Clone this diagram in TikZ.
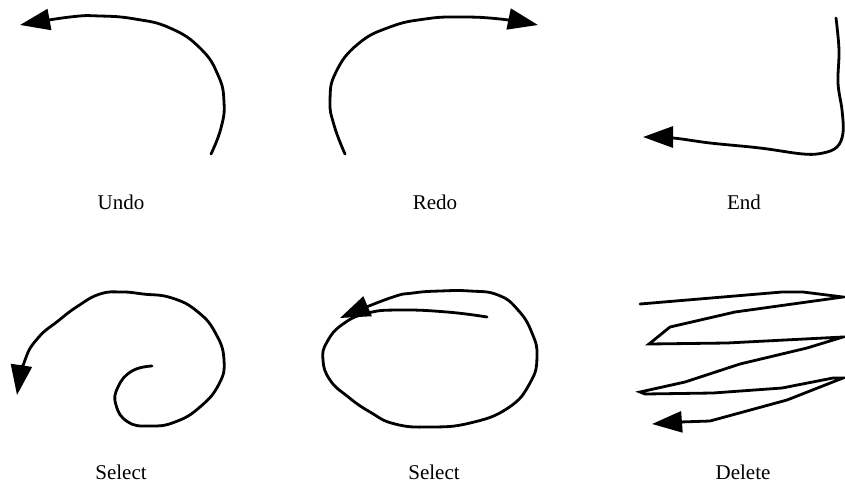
\documentclass[tikz,border=0pt]{standalone}
\usepackage{fontspec}
\setmainfont{Liberation Serif}
\usetikzlibrary{arrows.meta}
\tikzset{
  stroke/.style  = {line width=2.8pt, line cap=round, line join=round, black},
  pointer/.style = {-{Triangle[length=30pt, width=21pt]}},
  caption/.style = {anchor=base, inner sep=0pt, font=\fontsize{21}{24}\selectfont},
}
\begin{document}
\begin{tikzpicture}[x=1pt, y=-1pt]
  \useasboundingbox (0,0) rectangle (845,485);

  % top row
  \draw[stroke, pointer] plot[smooth, tension=0.8] coordinates {
    (211,154) (221,128) (224,102) (218,75) (200,48) (170,28)
    (135,19) (100,16) (70,17) (20,25)};
  \draw[stroke, pointer] plot[smooth, tension=0.8] coordinates {
    (345,154) (334,125) (330,100) (336,72) (358,44) (390,27) (425,19)
    (460,17) (500,19) (538,25)};
  \draw[stroke, pointer] plot[smooth, tension=0.6] coordinates {
    (836,18) (839,50) (838,83) (842,110) (843,133) (837,147) (823,153)
    (803,154) (760,148) (710,143) (673,138) (643,137)};

  \node[caption] (undo) at (121,209) {Undo};
  \node[caption] (redo) at (435,209) {Redo};
  \node[caption] (end)  at (744,209) {End};

  % bottom row
  \draw[stroke, pointer] plot[smooth, tension=0.8] coordinates {
    (152,366) (132,371) (118,387) (116,405) (128,422) (150,426) (175,422)
    (200,407) (219,384) (224,360) (216,334) (198,312) (172,298) (143,294)
    (122,292) (100,294) (78,306) (58,321) (38,338) (25,360) (17,395)};
  \draw[stroke, pointer] plot[smooth, tension=0.8] coordinates {
    (487,317) (447,312) (400,310) (368,313) (343,324) (327,342) (323,360)
    (330,380) (347,396) (370,412) (395,424) (430,427) (470,423) (508,408)
    (530,383) (537,357) (532,333) (518,310) (498,295) (470,291) (440,291)
    (413,293) (390,298) (340,318)};
  \draw[stroke, pointer, line join=miter] (640,304) -- (782,292) -- (803,292)
    -- (843,297) -- (735,312) -- (670,327) -- (649,344) -- (727,343)
    -- (843,337) -- (807,348) -- (740,364) -- (685,382) -- (640,392)
    -- (645,394) -- (713,393) -- (782,388) -- (833,378) -- (843,378)
    -- (787,400) -- (710,421) -- (680,422) -- (652,424);

  \node[caption] (select)  at (121,479) {Select};
  \node[caption] (lasso)   at (434,479) {Select};
  \node[caption] (delete)  at (743,479) {Delete};
\end{tikzpicture}
\end{document}
